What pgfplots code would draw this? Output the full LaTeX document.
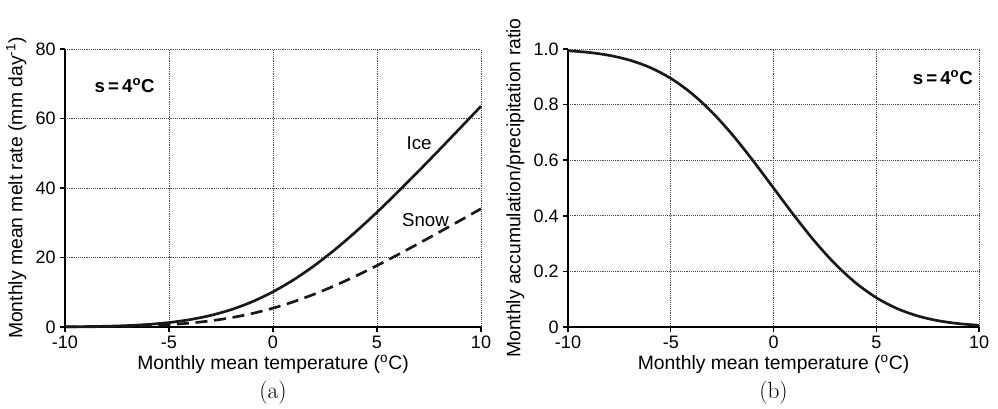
\documentclass[border=0pt]{standalone}
\usepackage{fontspec}
\setmainfont{Liberation Sans}
\newfontfamily\capfont{Latin Modern Roman}
\usepackage{pgfplots}
\pgfplotsset{compat=1.18}

% melt rate for ice and snow
\pgfplotstableread{
T     ice    snow
-10   0.05   0.03
-9    0.11   0.06
-8    0.22   0.12
-7    0.41   0.22
-6    0.74   0.40
-5    1.28   0.69
-4    2.12   1.13
-3    3.33   1.78
-2    5.02   2.69
-1    7.27   3.89
0     10.13  5.43
1     13.62  7.29
2     17.72  9.49
3     22.38  11.98
4     27.52  14.73
5     33.03  17.69
6     38.84  20.80
7     44.86  24.02
8     51.02  27.32
9     57.26  30.66
10    63.55  34.03
}\melt

% accumulation/precipitation ratio, panel (b)
\pgfplotstableread{
T     r
-10   0.9938
-9    0.9878
-8    0.9772
-7    0.9599
-6    0.9332
-5    0.8944
-4    0.8413
-3    0.7734
-2    0.6915
-1    0.5987
0     0.5000
1     0.4013
2     0.3085
3     0.2266
4     0.1587
5     0.1056
6     0.0668
7     0.0401
8     0.0228
9     0.0122
10    0.0062
}\ratio

\pgfplotsset{
  panel/.style={
    scale only axis, width=312pt, height=208.5pt,
    xmin=-10, xmax=10, xtick={-10,-5,0,5,10},
    axis x line=bottom, axis y line=left,
    axis line style={-, line width=1.2pt},
    tick align=outside, major tick length=3.5pt,
    tick style={line width=1.1pt, black},
    grid=major, grid style={densely dotted, line width=0.6pt, black!70},
    /pgf/number format/assume math mode=true,
    ticklabel style={font=\fontsize{13.5}{16}\selectfont},
    label style={font=\fontsize{14.5}{17}\selectfont},
    xlabel={Monthly mean temperature (\textsuperscript{o}C)},
    xlabel style={yshift=2pt},
    clip=false,
  },
}

\begin{document}
\begin{tikzpicture}
\path[use as bounding box] (-48.75pt,-60.75pt) rectangle (699.75pt,245.25pt);

\begin{axis}[panel,
    ymin=0, ymax=80, ytick={0,20,40,60,80},
    ylabel={Monthly mean melt rate (mm day\textsuperscript{-1})},
]
\addplot[black!90, line width=2pt, smooth] table[x=T, y=ice] {\melt};
\addplot[black!90, line width=2pt, smooth, dash pattern=on 9pt off 5pt] table[x=T, y=snow] {\melt};
\node[font=\bfseries\fontsize{14}{16}\selectfont, anchor=west] at (axis cs:-8.8,69.6) {s\,=\,4\textsuperscript{o}C};
\node[font=\fontsize{14}{16}\selectfont] at (axis cs:7.02,52.9) {Ice};
\node[font=\fontsize{14}{16}\selectfont] at (axis cs:7.33,30.8) {Snow};
\node[font=\capfont\fontsize{17.5}{19}\selectfont] at (axis cs:0,-19) {(a)};
\end{axis}

\begin{axis}[panel, at={(377.25pt,0)}, anchor=south west, width=308.25pt,
    ymin=0, ymax=1, ytick={0,0.2,0.4,0.6,0.8,1.0},
    yticklabels={0,0.2,0.4,0.6,0.8,1.0},
    ylabel={Monthly accumulation/precipitation ratio},
]
\addplot[black!90, line width=2pt, smooth] table[x=T, y=r] {\ratio};
\node[font=\bfseries\fontsize{14}{16}\selectfont, anchor=west] at (axis cs:6.55,0.896) {s\,=\,4\textsuperscript{o}C};
\node[font=\capfont\fontsize{17.5}{19}\selectfont] at (axis cs:0,-0.237) {(b)};
\end{axis}
\end{tikzpicture}
\end{document}
